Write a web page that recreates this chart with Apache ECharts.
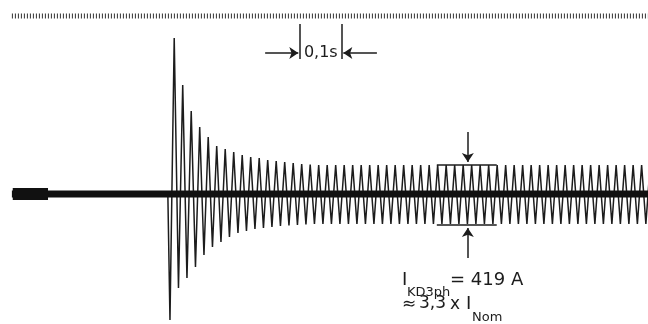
<!DOCTYPE html>
<html>
<head>
<meta charset="utf-8">
<script src="https://cdn.jsdelivr.net/npm/echarts@6/dist/echarts.min.js"></script>
<style>
  html, body { margin: 0; padding: 0; background: #fff; }
  #chart { width: 648px; height: 324px; }
</style>
</head>
<body>
<div id="chart"></div>
<script>
// time in ms, current in A
const periodMs = 20
const faultStartMs = 395
const firstTroughMs = 400

// peak values (A), one per cycle
const peakAmps = [3120, 2180, 1660, 1340, 1140, 960, 900, 840, 780, 740, 720, 680, 660, 640, 620, 600, 590,
  580, 580, 580, 580, 580, 580, 580, 580, 580, 580, 580, 580, 580, 580, 580, 580, 580, 580, 580, 580,
  580, 580, 580, 580, 580, 580, 580, 580, 580, 580, 580, 580, 580, 580, 580, 580, 580, 580, 580, 580]
// trough values (A), one per cycle
const troughAmps = [-2520, -1880, -1680, -1460, -1220, -1060, -960, -860, -780, -740, -700, -680, -660, -640, -630, -620, -610,
  -600, -600, -600, -600, -600, -600, -600, -600, -600, -600, -600, -600, -600, -600, -600, -600, -600, -600, -600, -600,
  -600, -600, -600, -600, -600, -600, -600, -600, -600, -600, -600, -600, -600, -600, -600, -600, -600, -600, -600, -600]

const baselineSpan = [28, 1525]
const prefaultBlock = [30, 113]
const timeTickRow = [28, 1525]
const timeTickLevel = 3560

// 0,1s scale marker
const scaleMarks = [705, 805]
const scaleLabel = '0,1s'
// steady-state bracket
const bracketSpan = [1028, 1169]
const bracketLevels = [580, -620]
const bracketArrowAt = 1101

const wave = [[faultStartMs, 0]]
troughAmps.forEach((v, k) => {
  wave.push([firstTroughMs + k * periodMs, v])
  if (k < peakAmps.length) wave.push([firstTroughMs + periodMs / 2 + k * periodMs, peakAmps[k]])
})

const chart = echarts.init(document.getElementById('chart'))
const ink = '#1c1c1c'
const big = '18px "DejaVu Sans"'
const mid = '17px "DejaVu Sans"'
const small = '13px "DejaVu Sans"'

const option = {
  animation: false,
  grid: { left: 0, right: 0, top: 0, bottom: 0 },
  xAxis: { type: 'value', min: 0, max: 1525, show: false },
  yAxis: { type: 'value', min: -2600, max: 3880, show: false },
  series: [
    {
      name: 'ticks',
      type: 'line',
      symbol: 'none',
      data: timeTickRow.map(t => [t, timeTickLevel]),
      lineStyle: { color: '#333', width: 5, type: [1, 2], cap: 'butt' }
    },
    {
      name: 'current',
      type: 'line',
      symbol: 'none',
      data: wave,
      lineStyle: { color: ink, width: 1.5 }
    },
    {
      name: 'baseline',
      type: 'line',
      symbol: 'none',
      data: baselineSpan.map(t => [t, 0]),
      lineStyle: { color: '#111', width: 7, cap: 'butt' }
    },
    {
      name: 'prefault',
      type: 'line',
      symbol: 'none',
      data: prefaultBlock.map(t => [t, 0]),
      lineStyle: { color: '#111', width: 12, cap: 'butt' },
      markLine: {
        silent: true,
        symbol: ['none', 'arrow'],
        symbolSize: 9,
        label: { show: false },
        lineStyle: { color: ink, width: 1.5, type: 'solid' },
        data: [
          [{ coord: [scaleMarks[0], 3400], symbol: 'none' }, { coord: [scaleMarks[0], 2700], symbol: 'none' }],
          [{ coord: [scaleMarks[1], 3400], symbol: 'none' }, { coord: [scaleMarks[1], 2700], symbol: 'none' }],
          [{ coord: [624, 2820] }, { coord: [scaleMarks[0] - 3, 2820] }],
          [{ coord: [887, 2820] }, { coord: [scaleMarks[1] + 3, 2820] }],
          [{ coord: [bracketSpan[0], bracketLevels[0]], symbol: 'none' }, { coord: [bracketSpan[1], bracketLevels[0]], symbol: 'none' }],
          [{ coord: [bracketSpan[0], bracketLevels[1]], symbol: 'none' }, { coord: [bracketSpan[1], bracketLevels[1]], symbol: 'none' }],
          [{ coord: [bracketArrowAt, 1240] }, { coord: [bracketArrowAt, 640] }],
          [{ coord: [bracketArrowAt, -1280] }, { coord: [bracketArrowAt, -680] }]
        ]
      },
      markPoint: {
        silent: true,
        symbolSize: 0,
        label: { show: true, position: 'inside', color: ink, fontFamily: 'DejaVu Sans', fontSize: 16, formatter: scaleLabel },
        data: [{ coord: [(scaleMarks[0] + scaleMarks[1]) / 2, 2820] }]
      }
    }
  ],
  graphic: [
    { type: 'text', style: { text: 'I', x: 402, y: 280, font: big, fill: ink, textVerticalAlign: 'middle' } },
    { type: 'text', style: { text: 'KD3ph', x: 407, y: 293, font: small, fill: ink, textVerticalAlign: 'middle' } },
    { type: 'text', style: { text: '= 419 A', x: 450, y: 280, font: big, fill: ink, textVerticalAlign: 'middle' } },
    { type: 'text', style: { text: '≈', x: 402, y: 305, font: mid, fill: ink, textVerticalAlign: 'middle' } },
    { type: 'text', style: { text: '3,3', x: 419, y: 304, font: mid, fill: ink, textVerticalAlign: 'middle' } },
    { type: 'text', style: { text: 'x', x: 450, y: 305, font: mid, fill: ink, textVerticalAlign: 'middle' } },
    { type: 'text', style: { text: 'I', x: 466, y: 304, font: big, fill: ink, textVerticalAlign: 'middle' } },
    { type: 'text', style: { text: 'Nom', x: 472, y: 318, font: small, fill: ink, textVerticalAlign: 'middle' } }
  ]
}

chart.setOption(option)
</script>
</body>
</html>
